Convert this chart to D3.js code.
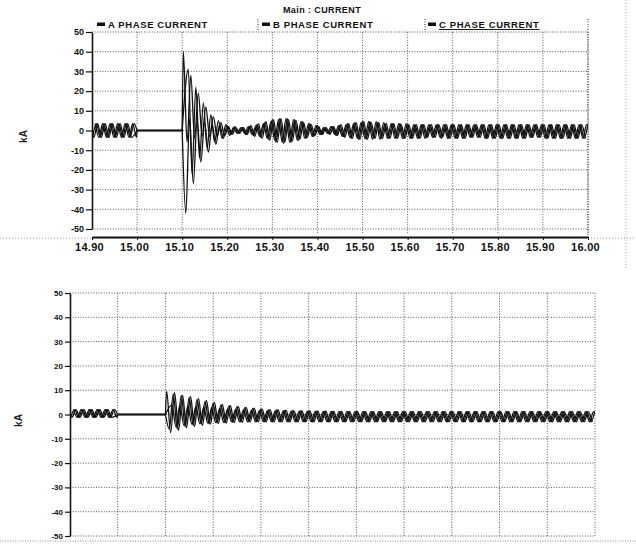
<!DOCTYPE html>
<html lang="en">
<head>
<meta charset="UTF-8">
<script src="https://d3js.org/d3.v7.min.js"></script>
<title>Main : CURRENT</title>
<style>
  body { margin: 0; background: #fff; font-family: Arial, "Liberation Sans", sans-serif; }
  svg { display: block; }
  .tick text { font-weight: bold; fill: #111; }
  .grid line { stroke: #444; stroke-width: 0.9; stroke-dasharray: 1,1.6; }
  .wave { fill: none; stroke: #111; stroke-width: 1.3; }
</style>
</head>
<body>
<svg id="chart" width="636" height="544"></svg>
<script>
const timeTicks = [14.90, 15.00, 15.10, 15.20, 15.30, 15.40, 15.50, 15.60, 15.70, 15.80, 15.90, 16.00];
const currentTicks = [50, 40, 30, 20, 10, 0, -10, -20, -30, -40, -50];
const phaseNames = ["A PHASE CURRENT", "B PHASE CURRENT", "C PHASE CURRENT"];

// 60 Hz: one peak every half cycle, phases 120 deg apart
const halfCycle = 1 / 120;
const phaseShift = [0, 1 / 180, 2 / 180];
const preStart = 14.90, openTime = 15.00, faultTime = 15.10, firstPeak = 15.1025;

// upper chart, peak values (kA) per half cycle
const topPreA = [3.5,-3.5,3.5,-3.5,3.5,-3.5,3.5,-3.5,3.5,-3.5,3.5,-3.5];
const topPreB = [-3.5,3.5,-3.5,3.5,-3.5,3.5,-3.5,3.5,-3.5,3.5,-3.5,3.5];
const topPreC = [3.5,-3.5,3.5,-3.5,3.5,-3.5,3.5,-3.5,3.5,-3.5,3.5,-3.5];

const topFaultA = [
  40,-6,28,-4,19,-3,12,-3,7,-3,4,-2.5,
  2,-2,1.5,-1.5,1.5,-2,2.5,-3,3.5,-4,4.5,-5,
  5.5,-6,6,-6,5.5,-5.5,5,-4.5,4,-3.5,3,-2.5,
  2,-2,1.5,-2,2,-2.5,3,-3.5,3.5,-4,4,-4.5,
  4.5,-4.5,4,-4,4,-4,3.5,-4,3.5,-4,3,-4,
  3,-4,3,-4,3,-3.5,3,-3.5,3,-3.5,3,-4,
  3,-4,3,-4,3,-3.5,3,-3.5,3,-4,3,-4,
  3,-4,3,-4,3,-4,3,-4,3,-3.5,3,-3.5,
  3,-4,3,-4,3,-4,3,-4,3,-4,3,-4];
const topFaultB = [
  -42,6,-27,5,-16,4,-11,3,-7,3,-4,2.5,
  -2,2,-1.5,1.5,-2,2,-2.5,3,-3.5,4,-4.5,5.5,
  -6,6,-6.5,6,-6,5.5,-5,4.5,-4,3.5,-3,2.5,
  -2,1.5,-1.5,2,-2.5,2.5,-3,3.5,-4,4,-4.5,4.5,
  -4.5,4.5,-4,4,-4,3.5,-4,3.5,-4,3.5,-4,3,
  -4,3,-4,3,-3.5,3,-3.5,3,-4,3,-4,3,
  -4,3,-4,3,-3.5,3,-3.5,3,-4,3,-4,3,
  -4,3,-4,3,-4,3,-4,3,-3.5,3,-3.5,3,
  -4,3,-4,3,-4,3,-4,3,-4,3,-4,3];
const topFaultC = [
  31,-22,22,-14,14,-9,8,-6,5,-4,3,-2.5,
  1.5,-1.5,1.5,-1.5,2,-2,2.5,-3,3.5,-4,4.5,-5,
  5.5,-6,6,-6,5.5,-5,4.5,-4,3.5,-3,2.5,-2,
  1.5,-1.5,2,-2,2.5,-3,3,-3.5,3.5,-4,4,-4,
  4.5,-4.5,4.5,-4.5,4,-4,3.5,-4,3.5,-4,3.5,-4,
  3,-4,3,-4,3,-3.5,3,-3.5,3,-4,3,-4,
  3,-4,3,-3.5,3,-3.5,3,-4,3,-4,3,-4,
  3,-4,3,-4,3,-4,3,-3.5,3,-3.5,3,-4,
  3,-4,3,-4,3,-4,3,-4,3,-4,3,-4];

// lower chart, peak values (kA) per half cycle
const botPreA = [2,-1.2,2,-1.2,2,-1.2,2,-1.2,2,-1.2,2,-1.2];
const botPreB = [-1.2,2,-1.2,2,-1.2,2,-1.2,2,-1.2,2,-1.2,2];
const botPreC = [2,-1.2,2,-1.2,2,-1.2,2,-1.2,2,-1.2,2,-1.2];

const botFaultA = [
  9.5,-7.5,9,-6.5,8,-5.5,7.4,-5,6.6,-4.5,5.8,-4,
  5,-3.7,4.2,-3.5,3.7,-3.3,3.3,-3.2,2.9,-3,2.6,-3,
  2.3,-3,2,-3,2,-3,1.8,-3,1.6,-3,1.5,-3,
  1.5,-3,1.4,-3,1.4,-3,1.3,-3,1.3,-3,1.2,-3,
  1.2,-3,1.2,-3,1.2,-3,1.2,-3,1.2,-3,1.2,-3,
  1.2,-3,1.2,-3,1.2,-3,1.2,-3,1.2,-3,1.2,-3,
  1.2,-3,1.2,-3,1.2,-3,1.2,-3,1.2,-3,1.2,-3,
  1.2,-3,1.2,-3,1.2,-3,1.2,-3,1.2,-3,1.2,-3,
  1.2,-3,1.2,-3,1.2,-3,1.2,-3,1.2,-3,1.2,-3];
const botFaultB = [
  -6,8.5,-6,7.8,-5,7,-4.5,6.2,-4,5.4,-3.8,4.6,
  -3.5,4,-3.4,3.5,-3.2,3.1,-3,2.8,-3,2.5,-3,2.2,
  -3,2,-3,1.9,-3,1.7,-3,1.6,-3,1.5,-3,1.4,
  -3,1.4,-3,1.3,-3,1.3,-3,1.2,-3,1.2,-3,1.2,
  -3,1.2,-3,1.2,-3,1.2,-3,1.2,-3,1.2,-3,1.2,
  -3,1.2,-3,1.2,-3,1.2,-3,1.2,-3,1.2,-3,1.2,
  -3,1.2,-3,1.2,-3,1.2,-3,1.2,-3,1.2,-3,1.2,
  -3,1.2,-3,1.2,-3,1.2,-3,1.2,-3,1.2,-3,1.2,
  -3,1.2,-3,1.2,-3,1.2,-3,1.2,-3,1.2,-3,1.2];
const botFaultC = [
  4,-5,4,-4.5,3.5,-4,3.2,-3.8,3,-3.5,2.8,-3.3,
  2.5,-3.2,2.3,-3,2.1,-3,2,-3,1.8,-3,1.7,-3,
  1.6,-3,1.5,-3,1.5,-3,1.4,-3,1.4,-3,1.3,-3,
  1.3,-3,1.2,-3,1.2,-3,1.2,-3,1.2,-3,1.2,-3,
  1.2,-3,1.2,-3,1.2,-3,1.2,-3,1.2,-3,1.2,-3,
  1.2,-3,1.2,-3,1.2,-3,1.2,-3,1.2,-3,1.2,-3,
  1.2,-3,1.2,-3,1.2,-3,1.2,-3,1.2,-3,1.2,-3,
  1.2,-3,1.2,-3,1.2,-3,1.2,-3,1.2,-3,1.2,-3,
  1.2,-3,1.2,-3,1.2,-3,1.2,-3,1.2,-3,1.2,-3];

const svg = d3.select("#chart");

// scan edges of the printed page
svg.append("line").attr("x1", 0).attr("x2", 636).attr("y1", 238).attr("y2", 238)
  .attr("stroke", "#999").attr("stroke-dasharray", "1,2");
svg.append("line").attr("x1", 626).attr("x2", 626).attr("y1", 0).attr("y2", 268)
  .attr("stroke", "#aaa").attr("stroke-dasharray", "1,2");
svg.append("line").attr("x1", 0).attr("x2", 636).attr("y1", 541).attr("y2", 541)
  .attr("stroke", "#888").attr("stroke-dasharray", "1,1.5");

function segments(pre, fault, shift) {
  const preSeg = pre.map((v, i) => ({ t: preStart + shift + (i - 0.5) * halfCycle, v }));
  preSeg.push({ t: openTime, v: 0 });
  const zeroSeg = [{ t: openTime, v: 0 }, { t: faultTime, v: 0 }];
  const faultSeg = [{ t: faultTime, v: 0 }]
    .concat(fault.map((v, i) => ({ t: firstPeak + shift + i * halfCycle, v })));
  return [preSeg, zeroSeg, faultSeg];
}

function drawPanel(cfg) {
  const x = d3.scaleLinear().domain([14.90, 16.00]).range(cfg.xr);
  const y = d3.scaleLinear().domain([-50, 50]).range(cfg.yr);
  const g = svg.append("g");

  const clipId = "clip" + cfg.id;
  svg.append("clipPath").attr("id", clipId).append("rect")
    .attr("x", x(14.90)).attr("y", y(50) - 2)
    .attr("width", x(16.00) - x(14.90)).attr("height", y(-50) - y(50) + 4);

  // grid
  const grid = g.append("g").attr("class", "grid");
  grid.selectAll(".v").data(timeTicks.slice(1)).join("line")
    .attr("x1", d => x(d)).attr("x2", d => x(d))
    .attr("y1", y(50)).attr("y2", cfg.gridBottom);
  grid.selectAll(".h").data(currentTicks).join("line")
    .attr("x1", x(14.90)).attr("x2", x(16.00))
    .attr("y1", d => y(d)).attr("y2", d => y(d));

  // y axis
  const ya = g.append("g").attr("transform", `translate(${x(14.90)},0)`)
    .call(d3.axisLeft(y).tickValues(currentTicks).tickFormat(d => String(d))
      .tickSize(cfg.tickSize).tickPadding(2).tickSizeOuter(0));
  ya.select(".domain").attr("stroke", "#111").attr("stroke-width", 1.6);
  ya.selectAll(".tick line").attr("stroke", "#111").attr("stroke-width", 1.2);
  ya.selectAll(".tick text").style("font-size", cfg.yFont + "px")
    .style("font-family", "Arial, 'Liberation Sans', sans-serif");

  // waves
  const line = d3.line().x(d => x(d.t)).y(d => y(d.v)).curve(d3.curveMonotoneX);
  const wg = g.append("g").attr("clip-path", `url(#${clipId})`);
  cfg.phases.forEach((p, k) => {
    segments(p.pre, p.fault, phaseShift[k]).forEach(seg => {
      wg.append("path").attr("class", "wave").attr("d", line(seg));
    });
  });

  // unit label
  g.append("text").attr("transform", `translate(${cfg.unitX},${y(0) + 6}) rotate(-90)`)
    .attr("text-anchor", "middle").style("font-size", "10px").style("font-weight", "bold")
    .attr("fill", "#222").text("kA");
  return { x, y, g };
}

// ---- upper chart ----
const topPanel = drawPanel({
  id: "top", xr: [92, 588], yr: [229, 32], gridBottom: 233, tickSize: 6, yFont: 9, unitX: 27,
  phases: [
    { pre: topPreA, fault: topFaultA },
    { pre: topPreB, fault: topFaultB },
    { pre: topPreC, fault: topFaultC }]
});

const xa = topPanel.g.append("g").attr("transform", "translate(0,237)")
  .call(d3.axisBottom(topPanel.x).tickValues(timeTicks).tickFormat(d3.format(".2f"))
    .tickSize(3).tickPadding(3).tickSizeOuter(0));
xa.select(".domain").attr("stroke", "#111").attr("stroke-width", 2);
xa.selectAll(".tick line").attr("stroke", "#111");
xa.selectAll(".tick text").attr("dx", -3).style("font-size", "11px")
  .style("font-family", "Arial, 'Liberation Sans', sans-serif").style("letter-spacing", "0.3px");

// frame of the upper plot
topPanel.g.append("line").attr("x1", 588).attr("x2", 588).attr("y1", 19).attr("y2", 237)
  .attr("stroke", "#333").attr("stroke-dasharray", "1,1.5");

// title and legend
svg.append("text").attr("x", 322).attr("y", 13).attr("text-anchor", "middle")
  .style("font-size", "9px").style("font-weight", "bold").style("letter-spacing", "0.4px")
  .attr("fill", "#111").text("Main : CURRENT");

const legendX = [97, 262, 428];
const legendSep = [258, 425];
svg.selectAll(".lsep").data(legendSep).join("line")
  .attr("x1", d => d).attr("x2", d => d).attr("y1", 19).attr("y2", 31)
  .attr("stroke", "#333").attr("stroke-dasharray", "1,1.5");
const leg = svg.selectAll(".leg").data(phaseNames).join("g")
  .attr("transform", (d, i) => `translate(${legendX[i]},0)`);
leg.append("rect").attr("x", 0).attr("y", 22.5).attr("width", 8).attr("height", 3.5).attr("fill", "#111");
leg.append("text").attr("x", 11).attr("y", 28)
  .style("font-size", "9.5px").style("font-weight", "bold").style("letter-spacing", "0.6px")
  .style("text-decoration", (d, i) => i === 2 ? "underline" : "none")
  .attr("fill", "#111").text(d => d);

// ---- lower chart ----
const botPanel = drawPanel({
  id: "bot", xr: [70, 595], yr: [536, 293], gridBottom: 536, tickSize: 5, yFont: 8, unitX: 22,
  phases: [
    { pre: botPreA, fault: botFaultA },
    { pre: botPreB, fault: botFaultB },
    { pre: botPreC, fault: botFaultC }]
});
</script>
</body>
</html>
